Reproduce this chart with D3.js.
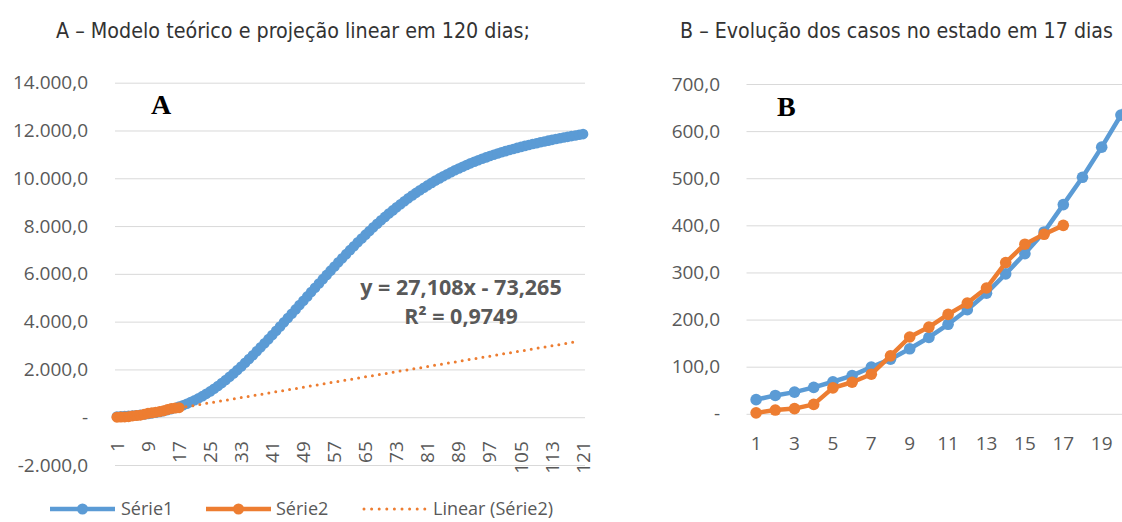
<!DOCTYPE html>
<html>
<head>
<meta charset="utf-8">
<script src="https://cdn.jsdelivr.net/npm/d3@7"></script>
<style>
  body { margin: 0; background: #fff; }
  svg text { font-family: "Open Sans", "Noto Sans", sans-serif; fill: #595959; }
  .title { font-family: "Liberation Sans Narrow", "DejaVu Sans Condensed", sans-serif; font-size: 21px; }
  svg text.title { fill: #333; }
  .panel { font-family: "Liberation Serif", serif; font-weight: bold; font-size: 28px; }
  svg text.panel { fill: #000; }
</style>
</head>
<body>
<svg width="1122" height="522"></svg>
<script>

// days 1..121 of the theoretical model (A) and days shown in B
var daysA = d3.range(1, 122);
var daysB = d3.range(1, 22);

var serie1 = [30, 39, 46, 56, 68, 81, 99, 116, 138, 162,
	190, 221, 256, 297, 340, 386, 444, 502, 566, 634,
	710, 792, 881, 977, 1080, 1189, 1305, 1427, 1556, 1691,
	1831, 1975, 2124, 2277, 2435, 2596, 2760, 2926, 3095, 3267,
	3441, 3616, 3793, 3971, 4151, 4331, 4512, 4693, 4875, 5057,
	5238, 5419, 5599, 5778, 5956, 6133, 6308, 6482, 6654, 6824,
	6992, 7158, 7321, 7482, 7640, 7795, 7947, 8096, 8241, 8383,
	8521, 8656, 8787, 8915, 9039, 9159, 9276, 9389, 9499, 9605,
	9708, 9807, 9903, 9995, 10084, 10170, 10253, 10333, 10410, 10484,
	10555, 10624, 10690, 10754, 10815, 10874, 10931, 10985, 11037, 11087,
	11135, 11182, 11227, 11271, 11313, 11354, 11394, 11432, 11469, 11505,
	11540, 11574, 11608, 11641, 11673, 11704, 11734, 11764, 11793, 11821,
	11848];

var serie2 = [2, 8, 11, 20, 55, 67, 84, 123, 163, 184, 211, 235, 267, 321, 360, 381, 400];

// linear trendline of Série2 as printed on the chart
var trendSlope = 27.108, trendIntercept = -73.265, trendFirst = 1, trendLast = 120;
var trendLabel = ["y = 27,108x - 73,265", "R² = 0,9749"];

var ticksA = [-2000, 0, 2000, 4000, 6000, 8000, 10000, 12000, 14000];
var ticksB = [0, 100, 200, 300, 400, 500, 600, 700];
var labelDaysA = [1, 9, 17, 25, 33, 41, 49, 57, 65, 73, 81, 89, 97, 105, 113, 121];
var labelDaysB = [1, 3, 5, 7, 9, 11, 13, 15, 17, 19];

var legendNames = ["Série1", "Série2", "Linear (Série2)"];

var BLUE = "#5b9bd5", ORANGE = "#ed7d31", GRID = "#d9d9d9";

var ptBR = d3.formatLocale({decimal: ",", thousands: ".", grouping: [3], currency: ["R$", ""], minus: "-"});
var f1 = ptBR.format(",.1f");
function fmt(v) { return v === 0 ? "-" : f1(v); }

var svg = d3.select("svg");

// ---------- panel A ----------
var xA = d3.scaleBand().domain(daysA).range([115, 585]);
var yA = d3.scaleLinear().domain([-2000, 14000]).range([465, 82.7]);
function cxA(d) { return xA(d) + xA.bandwidth() / 2; }

var gA = svg.append("g");

gA.append("g")
	.attr("transform", "translate(115,0)")
	.call(d3.axisLeft(yA).tickValues(ticksA).tickFormat(fmt).tickSize(-470).tickPadding(27))
	.call(function(g) {
		g.select(".domain").remove();
		g.selectAll("line").attr("stroke", GRID);
		g.selectAll("text").attr("font-size", 19).attr("fill", "#595959").attr("font-family", null);
	});

gA.append("g")
	.attr("transform", "translate(0," + yA(0) + ")")
	.call(d3.axisBottom(xA).tickValues(labelDaysA).tickSize(0))
	.call(function(g) {
		g.select(".domain").remove();
		g.selectAll("text")
			.attr("font-size", 19).attr("fill", "#595959").attr("font-family", null)
			.attr("transform", "rotate(-90)")
			.attr("text-anchor", "end")
			.attr("x", -24).attr("y", 0).attr("dy", "0.35em");
	});

var lineA = d3.line()
	.x(function(d, i) { return cxA(daysA[i]); })
	.y(function(d) { return yA(d); });

gA.append("path").datum(serie1)
	.attr("d", lineA).attr("fill", "none")
	.attr("stroke", BLUE).attr("stroke-width", 5).attr("stroke-linejoin", "round");
gA.selectAll(".m1").data(serie1).enter().append("circle")
	.attr("cx", function(d, i) { return cxA(daysA[i]); })
	.attr("cy", function(d) { return yA(d); })
	.attr("r", 5.3).attr("fill", BLUE);

gA.append("path").datum(serie2)
	.attr("d", lineA).attr("fill", "none")
	.attr("stroke", ORANGE).attr("stroke-width", 5).attr("stroke-linejoin", "round");
gA.selectAll(".m2").data(serie2).enter().append("circle")
	.attr("cx", function(d, i) { return cxA(daysA[i]); })
	.attr("cy", function(d) { return yA(d); })
	.attr("r", 5.5).attr("fill", ORANGE);

gA.append("line")
	.attr("x1", cxA(trendFirst)).attr("y1", yA(trendSlope * trendFirst + trendIntercept))
	.attr("x2", cxA(trendLast)).attr("y2", yA(trendSlope * trendLast + trendIntercept))
	.attr("stroke", ORANGE).attr("stroke-width", 3)
	.attr("stroke-linecap", "round").attr("stroke-dasharray", "0 7");

gA.selectAll(".eq").data(trendLabel).enter().append("text")
	.attr("x", 461).attr("y", function(d, i) { return 295 + i * 29; })
	.attr("text-anchor", "middle")
	.attr("font-size", 21.5).attr("font-weight", "bold")
	.text(function(d) { return d; });

gA.append("text").attr("class", "panel").attr("x", 151).attr("y", 114).text("A");

svg.append("text").attr("class", "title")
	.attr("x", 56).attr("y", 38)
	.attr("textLength", 474).attr("lengthAdjust", "spacingAndGlyphs")
	.text("A – Modelo teórico e projeção linear em 120 dias;");

// legend
var legend = svg.append("g").attr("transform", "translate(0,509)");
var legX = [50, 206, 363];
var legText = [121, 276, 433];
legend.selectAll(".lt").data(legendNames).enter().append("text")
	.attr("x", function(d, i) { return legText[i]; })
	.attr("y", 0).attr("dy", "0.35em")
	.attr("font-size", 18)
	.text(function(d) { return d; });
[BLUE, ORANGE].forEach(function(c, i) {
	legend.append("line")
		.attr("x1", legX[i]).attr("x2", legX[i] + 65)
		.attr("stroke", c).attr("stroke-width", 4.5);
	legend.append("circle")
		.attr("cx", legX[i] + 32.5).attr("r", 5.5).attr("fill", c);
});
legend.append("line")
	.attr("x1", legX[2] + 1).attr("x2", legX[2] + 62)
	.attr("stroke", ORANGE).attr("stroke-width", 3)
	.attr("stroke-linecap", "round").attr("stroke-dasharray", "0 7.6");

// ---------- panel B ----------
var xB = d3.scaleBand().domain(daysB).range([746.5, 746.5 + daysB.length * 19.2]);
var yB = d3.scaleLinear().domain([0, 700]).range([413.8, 84]);
function cxB(d) { return xB(d) + xB.bandwidth() / 2; }

var gB = svg.append("g");

gB.append("g")
	.attr("transform", "translate(746.5,0)")
	.call(d3.axisLeft(yB).tickValues(ticksB).tickFormat(fmt).tickSize(-450).tickPadding(26.5))
	.call(function(g) {
		g.select(".domain").remove();
		g.selectAll("line").attr("stroke", GRID);
		g.selectAll("text").attr("font-size", 19).attr("fill", "#595959").attr("font-family", null);
	});

gB.append("g")
	.attr("transform", "translate(0," + yB(0) + ")")
	.call(d3.axisBottom(xB).tickValues(labelDaysB).tickSize(0).tickPadding(23))
	.call(function(g) {
		g.select(".domain").remove();
		g.selectAll("text").attr("font-size", 19).attr("fill", "#595959").attr("font-family", null);
	});

var s1B = serie1.slice(0, daysB.length);
var lineB = d3.line()
	.x(function(d, i) { return cxB(daysB[i]); })
	.y(function(d) { return yB(d); });

[[s1B, BLUE], [serie2, ORANGE]].forEach(function(s) {
	gB.append("path").datum(s[0])
		.attr("d", lineB).attr("fill", "none")
		.attr("stroke", s[1]).attr("stroke-width", 4.5).attr("stroke-linejoin", "round");
	gB.selectAll(null).data(s[0]).enter().append("circle")
		.attr("cx", function(d, i) { return cxB(daysB[i]); })
		.attr("cy", function(d) { return yB(d); })
		.attr("r", 5.8).attr("fill", s[1]);
});

gB.append("text").attr("class", "panel").attr("x", 777).attr("y", 116).text("B");

svg.append("text").attr("class", "title")
	.attr("x", 680).attr("y", 38)
	.attr("textLength", 433).attr("lengthAdjust", "spacingAndGlyphs")
	.text("B – Evolução dos casos no estado em 17 dias");

</script>
</body>
</html>
